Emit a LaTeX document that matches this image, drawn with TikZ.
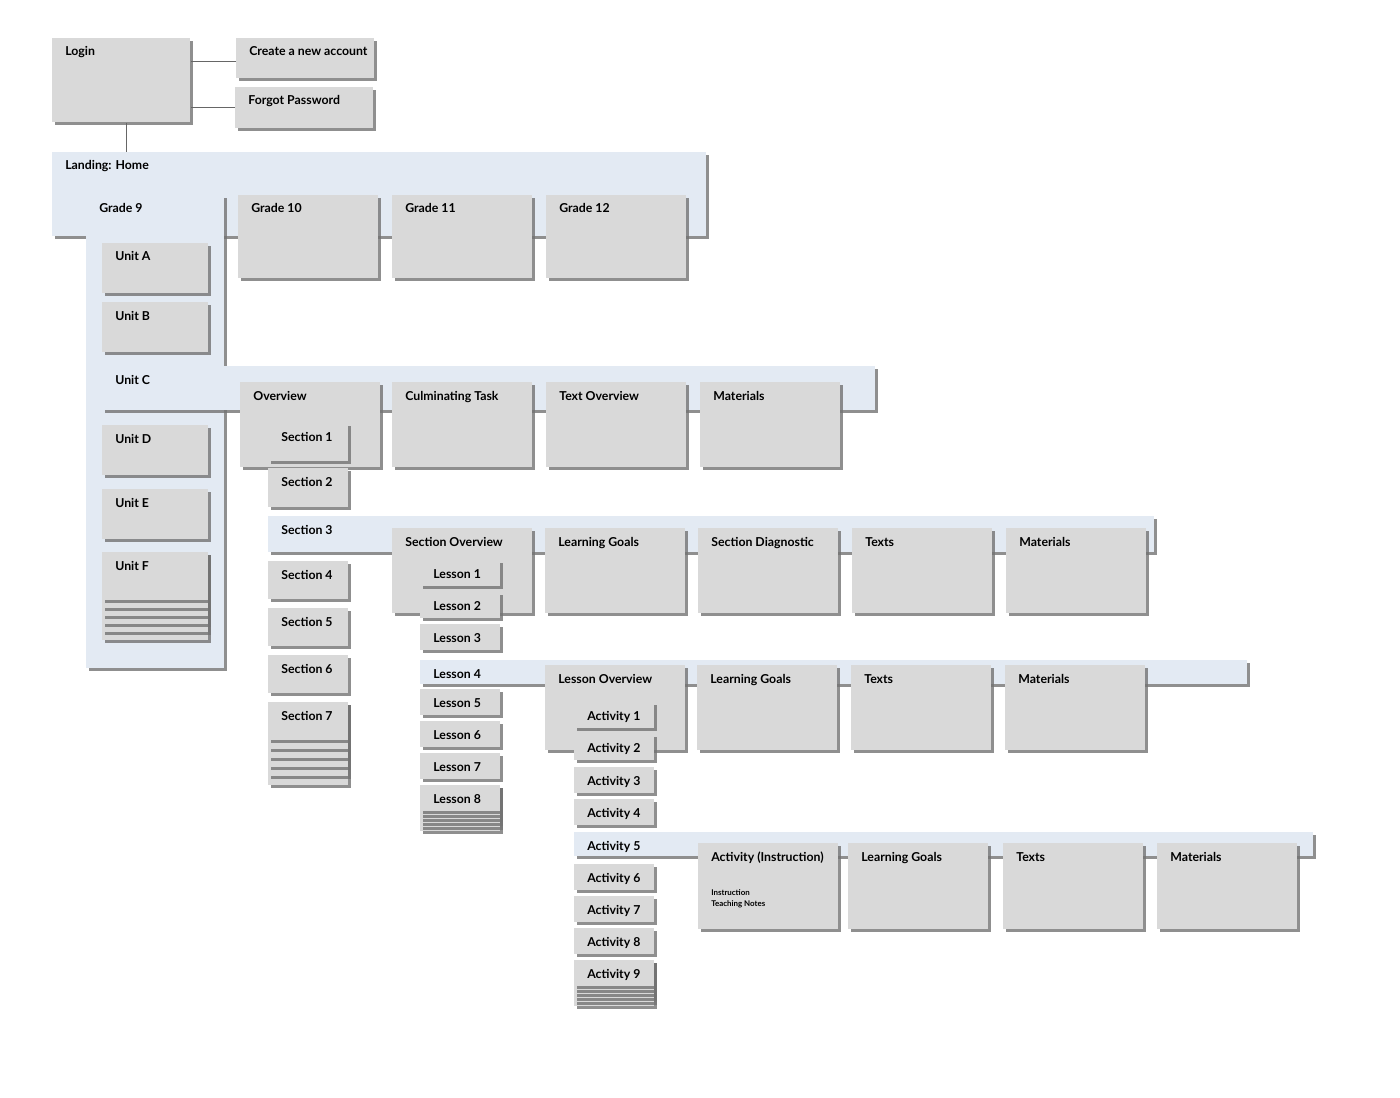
\documentclass[tikz,border=0pt]{standalone}
\usepackage{fontspec}
\setmainfont{Lato}
\usetikzlibrary{shadows,calc}
\definecolor{cardgray}{HTML}{D9D9D9}
\definecolor{panelblue}{HTML}{E3EAF3}
\tikzset{
  x=0.02cm, y=-0.02cm,
  card/.style={fill=cardgray, draw=none, inner sep=0pt, anchor=north west,
    drop shadow={shadow xshift=0.05cm, shadow yshift=-0.05cm, fill=black!55, opacity=0.8}},
  panel/.style={card, fill=panelblue},
  lbl/.style={anchor=base west, inner sep=0pt, font=\bfseries\fontsize{7}{8}\selectfont},
  note/.style={anchor=base west, inner sep=0pt, align=left, font=\bfseries\fontsize{4.5}{6}\selectfont},
  link/.style={draw=black!60, line width=0.5pt}
}
% \card[style]{name}{x1}{y1}{x2}{y2}{text}
\newcommand{\card}[7][card]{%
  \node[#1, minimum width={(#5-#3)*0.02cm}, minimum height={(#6-#4)*0.02cm}] (#2) at (#3,#4) {};
  \node[lbl] (#2-t) at ($(#2.north west)+(13,18)$) {#7};}
% \stack{x1}{y1}{x2}{y2}{extra}
\newcommand{\stack}[5]{%
  \foreach\i in {5,4,3,2,1}{
    \node[card, minimum width={(#3-#1)*0.02cm}, minimum height={(#4-#2+\i*#5)*0.02cm}] at (#1,#2) {};
  }}
\begin{document}
\begin{tikzpicture}
  \useasboundingbox (0,0) rectangle (1400,1098);
  % login
  \card{login}{52}{38}{190}{122}{Login}
  \card{create}{236}{38}{374}{78}{Create a new account}
  \card{forgot}{235}{87}{373}{128}{Forgot Password}
  \draw[link] (create.west |- 0,61) -- (login.east |- 0,61);
  \draw[link] (forgot.west |- 0,107) -- (login.east |- 0,107);
  \coordinate (home-top) at (126,152);
  \draw[link] (login.south -| home-top) -- (home-top);
  % landing
  \card[panel]{home}{52}{152}{706}{236}{Landing: Home}
  \card[panel]{grade9}{86}{195}{224}{668}{Grade 9}
  \foreach\x/\g in {238/10,392/11,546/12}{
    \card{grade\g}{\x}{195}{\x+140}{278}{Grade \g}
  }
  % units
  \card{unitA}{102}{243}{208}{293}{Unit A}
  \card{unitB}{102}{302}{208}{352}{Unit B}
  \card{unitD}{102}{425}{208}{475}{Unit D}
  \card{unitE}{102}{489}{208}{539}{Unit E}
  \stack{102}{552}{208}{600}{8}
  \card{unitF}{102}{552}{208}{600}{Unit F}
  \card[panel]{unitC}{102}{366}{875}{410}{Unit C}
  \card{overview}{240}{382}{380}{467}{Overview}
  \card{task}{392}{382}{532}{467}{Culminating Task}
  \card{textov}{546}{382}{686}{467}{Text Overview}
  \card{matC}{700}{382}{840}{467}{Materials}
  % sections
  \card{sec1}{268}{423}{348}{461}{Section 1}
  \card{sec2}{268}{468}{348}{507}{Section 2}
  \foreach\y/\s in {561/4,608/5,655/6}{
    \card{sec\s}{268}{\y}{348}{\y+38}{Section \s}
  }
  \stack{268}{702}{348}{740}{9}
  \card{sec7}{268}{702}{348}{740}{Section 7}
  \card[panel]{sec3}{268}{516}{1154}{552}{Section 3}
  \card{secov}{392}{528}{532}{613}{Section Overview}
  \card{goalsS}{545}{528}{685}{613}{Learning Goals}
  \card{diag}{698}{528}{838}{613}{Section Diagnostic}
  \card{textsS}{852}{528}{992}{613}{Texts}
  \card{matS}{1006}{528}{1146}{613}{Materials}
  % lessons
  \foreach\y/\l in {560/1,592/2,624/3,689/5,721/6,753/7}{
    \card{les\l}{420}{\y}{500}{\y+26}{Lesson \l}
  }
  \stack{420}{785}{500}{811}{4}
  \card{les8}{420}{785}{500}{811}{Lesson 8}
  \card[panel]{les4}{420}{660}{1247}{684}{Lesson 4}
  \card{lesov}{545}{665}{685}{750}{Lesson Overview}
  \card{goalsL}{697}{665}{837}{750}{Learning Goals}
  \card{textsL}{851}{665}{991}{750}{Texts}
  \card{matL}{1005}{665}{1145}{750}{Materials}
  % activities
  \foreach\y/\a in {702/1,734/2,767/3,799/4,864/6,896/7,928/8}{
    \card{act\a}{574}{\y}{654}{\y+26}{Activity \a}
  }
  \stack{574}{960}{654}{986}{4}
  \card{act9}{574}{960}{654}{986}{Activity 9}
  \card[panel]{act5}{574}{832}{1313}{856}{Activity 5}
  \card{instr}{698}{843}{838}{929}{Activity (Instruction)}
  \node[note] (instr-n) at (711,906) {Instruction\\Teaching Notes};
  \card{goalsA}{848}{843}{988}{929}{Learning Goals}
  \card{textsA}{1003}{843}{1143}{929}{Texts}
  \card{matA}{1157}{843}{1297}{929}{Materials}
\end{tikzpicture}
\end{document}
